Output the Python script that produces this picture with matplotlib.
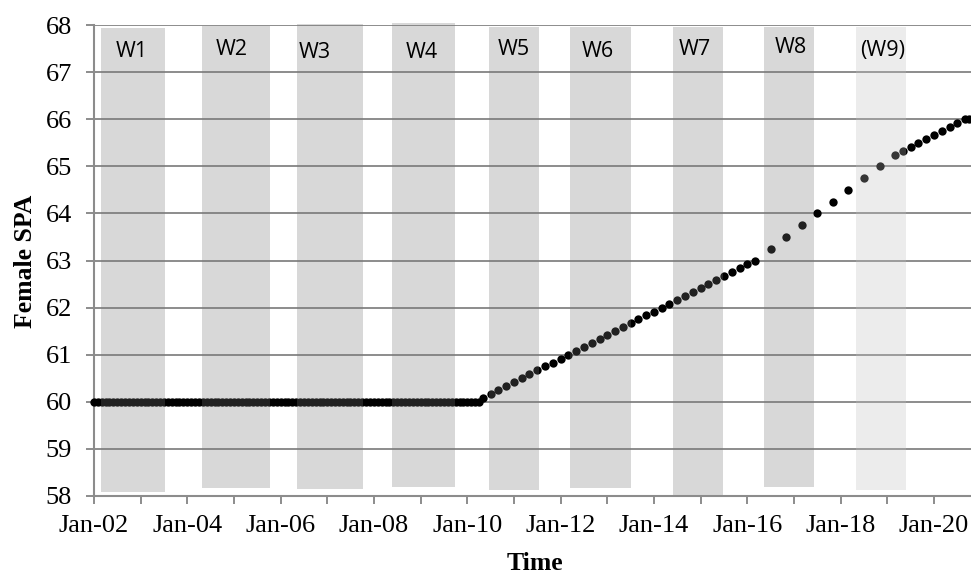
import pandas as pd
import numpy as np
import matplotlib
matplotlib.use('Agg')
import matplotlib.pyplot as plt
import matplotlib.dates as mdates

# Female state pension age, one dot per date (year-month)
spa_dates = [
    "2002-01", "2002-02", "2002-03", "2002-04", "2002-05", "2002-06", "2002-07", "2002-08", "2002-09", "2002-10", "2002-11", "2002-12",
    "2003-01", "2003-02", "2003-03", "2003-04", "2003-05", "2003-06", "2003-07", "2003-08", "2003-09", "2003-10", "2003-11", "2003-12",
    "2004-01", "2004-02", "2004-03", "2004-04", "2004-05", "2004-06", "2004-07", "2004-08", "2004-09", "2004-10", "2004-11", "2004-12",
    "2005-01", "2005-02", "2005-03", "2005-04", "2005-05", "2005-06", "2005-07", "2005-08", "2005-09", "2005-10", "2005-11", "2005-12",
    "2006-01", "2006-02", "2006-03", "2006-04", "2006-05", "2006-06", "2006-07", "2006-08", "2006-09", "2006-10", "2006-11", "2006-12",
    "2007-01", "2007-02", "2007-03", "2007-04", "2007-05", "2007-06", "2007-07", "2007-08", "2007-09", "2007-10", "2007-11", "2007-12",
    "2008-01", "2008-02", "2008-03", "2008-04", "2008-05", "2008-06", "2008-07", "2008-08", "2008-09", "2008-10", "2008-11", "2008-12",
    "2009-01", "2009-02", "2009-03", "2009-04", "2009-05", "2009-06", "2009-07", "2009-08", "2009-09", "2009-10", "2009-11", "2009-12",
    "2010-01", "2010-02", "2010-03", "2010-04",
    "2010-05", "2010-07", "2010-09", "2010-11",
    "2011-01", "2011-03", "2011-05", "2011-07", "2011-09", "2011-11",
    "2012-01", "2012-03", "2012-05", "2012-07", "2012-09", "2012-11",
    "2013-01", "2013-03", "2013-05", "2013-07", "2013-09", "2013-11",
    "2014-01", "2014-03", "2014-05", "2014-07", "2014-09", "2014-11",
    "2015-01", "2015-03", "2015-05", "2015-07", "2015-09", "2015-11",
    "2016-01", "2016-03",
    "2016-07", "2016-11", "2017-03", "2017-07", "2017-11", "2018-03", "2018-07", "2018-11",
    "2019-03", "2019-05", "2019-07", "2019-09", "2019-11",
    "2020-01", "2020-03", "2020-05", "2020-07", "2020-09", "2020-10",
]
spa = [
    60, 60, 60, 60, 60, 60, 60, 60, 60, 60, 60, 60,
    60, 60, 60, 60, 60, 60, 60, 60, 60, 60, 60, 60,
    60, 60, 60, 60, 60, 60, 60, 60, 60, 60, 60, 60,
    60, 60, 60, 60, 60, 60, 60, 60, 60, 60, 60, 60,
    60, 60, 60, 60, 60, 60, 60, 60, 60, 60, 60, 60,
    60, 60, 60, 60, 60, 60, 60, 60, 60, 60, 60, 60,
    60, 60, 60, 60, 60, 60, 60, 60, 60, 60, 60, 60,
    60, 60, 60, 60, 60, 60, 60, 60, 60, 60, 60, 60,
    60, 60, 60, 60,
    60.083, 60.167, 60.25, 60.333,
    60.417, 60.5, 60.583, 60.667, 60.75, 60.833,
    60.917, 61.0, 61.083, 61.167, 61.25, 61.333,
    61.417, 61.5, 61.583, 61.667, 61.75, 61.833,
    61.917, 62.0, 62.083, 62.167, 62.25, 62.333,
    62.417, 62.5, 62.583, 62.667, 62.75, 62.833,
    62.917, 63.0,
    63.25, 63.5, 63.75, 64.0, 64.25, 64.5, 64.75, 65.0,
    65.25, 65.333, 65.417, 65.5, 65.583,
    65.667, 65.75, 65.833, 65.917, 66.0, 66.0,
]

# Survey waves (shaded periods)
wave_names = ["W1", "W2", "W3", "W4", "W5", "W6", "W7", "W8", "(W9)"]
wave_start = ["2002-02-24", "2004-04-25", "2006-05-08", "2008-05-21", "2010-06-19",
              "2012-03-14", "2014-05-28", "2016-05-11", "2018-04-30"]
wave_end = ["2003-07-09", "2005-10-09", "2007-10-06", "2009-09-26", "2011-07-14",
            "2013-07-04", "2015-06-23", "2017-06-05", "2019-05-26"]
wave_bottom = [58.08, 58.17, 58.15, 58.19, 58.13, 58.17, 58.02, 58.19, 58.13]
wave_top = [67.94, 67.98, 68.02, 68.04, 67.96, 67.96, 67.96, 67.96, 67.96]

# label placement
label_x = ["2002-10-24", "2004-12-15", "2006-09-25", "2009-01-10", "2011-01-01",
           "2012-10-20", "2014-11-15", "2016-12-07", "2018-11-26"]
label_y = [67.43, 67.49, 67.42, 67.42, 67.49, 67.43, 67.49, 67.52, 67.46]

plt.rcParams['font.family'] = ['Liberation Serif', 'DejaVu Serif']

fig = plt.figure(figsize=(9.71, 5.74), dpi=100)
ax = fig.add_axes([94 / 971, 1 - 496 / 574, 877 / 971, 471 / 574])

x = pd.to_datetime(spa_dates)
ax.plot(x, spa, 'o', color='black', markersize=6.0, markeredgewidth=0,
        zorder=3, clip_on=False)

# wave bands drawn over the dots (semi transparent, as in the original)
for i in range(len(wave_names)):
    s = mdates.date2num(pd.Timestamp(wave_start[i]))
    e = mdates.date2num(pd.Timestamp(wave_end[i]))
    if i == len(wave_names) - 1:
        col, a = '#c0c0c0', 0.286
    else:
        col, a = '#787878', 0.282
    ax.bar(s, wave_top[i] - wave_bottom[i], width=e - s, bottom=wave_bottom[i],
           align='edge', color=col, alpha=a, linewidth=0, zorder=4, clip_on=False)
    ax.text(pd.Timestamp(label_x[i]), label_y[i], wave_names[i], ha='center', va='center',
            fontsize=15.5, family='Open Sans', color='black', zorder=5)

ax.set_xlim(pd.Timestamp('2002-01-01'), pd.Timestamp('2020-10-16'))
ax.set_ylim(58, 68)
ax.set_yticks(range(58, 69))
ax.xaxis.set_major_locator(mdates.YearLocator(2))
ax.xaxis.set_minor_locator(mdates.YearLocator(1))
ax.xaxis.set_major_formatter(mdates.DateFormatter('%b-%y'))

ax.yaxis.grid(True, color='#8c8c8c', linewidth=1.4)
ax.set_axisbelow(True)
for sp in ['top', 'right']:
    ax.spines[sp].set_visible(False)
for sp in ['left', 'bottom']:
    ax.spines[sp].set_color('#8c8c8c')
    ax.spines[sp].set_linewidth(1.5)

ax.tick_params(axis='both', which='both', direction='out', length=6, width=1.4,
               color='#8c8c8c', labelsize=19)
ax.tick_params(axis='y', pad=10)
ax.tick_params(axis='x', pad=8)

fig.text(32 / 971, 1 - 261 / 574, 'Female SPA', rotation=90, rotation_mode='anchor',
         ha='center', va='baseline', fontsize=18.5, fontweight='bold')
fig.text(535 / 971, 1 - 570 / 574, 'Time', ha='center', va='baseline',
         fontsize=18.5, fontweight='bold')

fig.savefig('out.png', dpi=100)
